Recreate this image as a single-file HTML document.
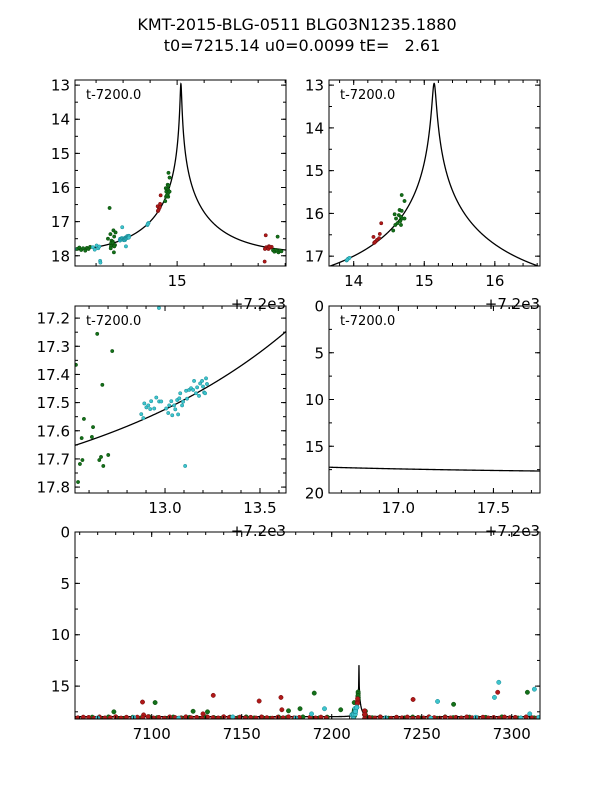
<!DOCTYPE html>
<html><head><meta charset="utf-8">
<style>
body{margin:0;background:#fff;}
svg{display:block;font-family:"DejaVu Sans","Liberation Sans",sans-serif;}
</style></head>
<body>
<svg id="fig" width="600" height="800" viewBox="0 0 600 800">
<rect width="600" height="800" fill="#fff"/>
<text x="297" y="30" font-size="16" text-anchor="middle">KMT-2015-BLG-0511 BLG03N1235.1880</text>
<text x="302" y="51" font-size="16" text-anchor="middle" xml:space="preserve" style="white-space:pre">t0=7215.14 u0=0.0099 tE=   2.61</text>
</svg>
<script>
// model parameters
const t0 = 15.14, u0 = 0.0099, tE = 2.61, mBase = 17.97, fS = 1.0;
// observations, times as t-7200
const greenData = [
[11.3,17.8],[11.38,17.76],[11.45,17.83],[11.52,17.78],[11.6,17.85],[11.66,17.77],[11.72,17.8],[11.78,17.74],
[12.531,17.366],[12.643,17.256],[12.722,17.317],[12.67,17.437],[12.573,17.558],[12.621,17.587],[12.561,17.626],[12.615,17.622],[12.565,17.704],[12.552,17.718],[12.663,17.693],[12.654,17.704],[12.701,17.686],[12.675,17.725],[12.542,17.782],[12.5,16.6],[12.44,17.5],[12.66,17.9],
[14.68,15.57],[14.72,15.71],[14.58,16.02],[14.6,16.12],[14.64,16.04],[14.65,15.92],[14.67,16.08],[14.69,16.12],[14.72,16.12],[14.59,16.27],[14.56,16.40],[14.67,16.27],[14.66,16.18],[14.62,16.23],[14.68,15.94],
[18.55,17.84],[18.6,17.88],[18.65,17.83],[18.7,17.86],[18.75,17.9],[18.8,17.85],[18.86,17.87],[18.72,17.44],
[-98.1,16.6],[-9.7,15.68],[67.7,16.77],[108.7,15.6],[-17.6,17.2],[5,17.3],[-24,17.4],[-121,17.5],[-69,17.5],[-77,17.45],
[-138,18.1],[-133,18.02],[-128.5,18.12],[-124,18.0],[-119.5,18.08],[-115,18.13],[-110.5,18.03],[-106,18.1],[-101.5,17.98],[-97,18.07],[-92.5,18.12],[-88,18.01],[-83.5,18.09],[-79,18.04],[-74.5,18.11],[-70,17.99],[-65.5,18.06],[-61,18.12],[-56.5,18.02],[-52,18.08],[-47.5,18.0],[-43,18.1],[-38.5,18.05],[-34,18.13],[-29.5,18.01],[-25,18.07],[-20.5,18.11],[-16,18.0],[-11.5,18.06],[-7,18.1],[-2.5,18.02],
[22.5,18.08],[27,18.0],[31.5,18.12],[36,18.04],[40.5,18.09],[45,18.01],[49.5,18.11],[54,18.05],[58.5,18.13],[63,18.0],[67.5,18.07],[72,18.1],[76.5,18.02],[81,18.09],[85.5,18.04],[90,18.12],[94.5,18.0],[99,18.08],[103.5,18.11],[108,18.03],[112.5,18.09]
];
const redData = [
[14.28,16.55],[14.29,16.69],[14.31,16.66],[14.33,16.62],[14.36,16.58],[14.37,16.48],[14.39,16.23],[14.3,16.67],
[18.3,17.75],[18.35,17.78],[18.4,17.72],[18.45,17.76],[18.5,17.74],[18.25,17.8],[18.24,18.17],[18.28,17.4],[18.38,17.8],[18.42,17.74],
[-105.1,16.55],[-65.8,15.9],[-40.3,16.45],[-28.2,16.1],[45.2,16.3],[92.2,15.6],[-27.7,17.3],[-104.5,17.8],[-71.5,17.7],
[-141,18.08],[-138,18.02],[-135,18.05],[-132,18.12],[-129,18.0],[-126,18.1],[-123,18.07],[-120,17.98],[-117,18.11],[-114,18.03],[-111,18.14],[-108,18.02],[-105,18.08],[-102,17.97],[-99,18.1],[-96,18.05],[-93,18.13],[-90,18.0],[-87,18.06],[-84,18.11],[-81,17.99],[-78,18.08],[-75,18.04],[-72,18.12],[-69,18.01],[-66,18.07],[-63,18.1],[-60,17.98],[-57,18.06],[-54,18.13],[-51,18.02],[-48,18.09],[-45,18.04],[-42,18.11],[-39,18.0],[-36,18.07],[-33,18.12],[-30,18.03],[-27,18.08],[-24,17.99],[-21,18.1],[-18,18.05],[-12,18.03],[-9,18.1],[-6,18.02],[-3,18.08],
[21,18.06],[24,18.11],[27,18.0],[30,18.08],[33,18.13],[36,18.03],[39,18.09],[42,18.01],[45,18.12],[48,18.05],[51,18.1],[54,17.99],[57,18.07],[60,18.12],[63,18.02],[66,18.09],[69,18.04],[72,18.11],[75,18.0],[78,18.08],[81,18.13],[84,18.03],[87,18.1],[90,18.05],[93,18.12],[96,18.01],[99,18.08],[102,18.04],[105,18.11],[108,18.0],[111,18.07],[114,18.12]
];
const cyanData = [
[11.2,17.8],[11.88,17.75],[11.95,17.82],[12.02,17.7],[12.08,17.78],[12.12,17.73],[12.15,18.15],[12.16,18.2],
[12.968,17.164],[12.875,17.541],[12.886,17.555],[12.891,17.503],[12.902,17.517],[12.912,17.51],[12.922,17.523],[12.927,17.495],[12.943,17.521],[12.954,17.482],[12.969,17.496],[12.98,17.496],[13.006,17.521],[13.017,17.537],[13.022,17.51],[13.033,17.495],[13.038,17.545],[13.048,17.51],[13.054,17.524],[13.064,17.491],[13.069,17.542],[13.075,17.485],[13.08,17.467],[13.09,17.51],[13.095,17.497],[13.106,17.725],[13.111,17.458],[13.116,17.486],[13.127,17.455],[13.137,17.449],[13.148,17.455],[13.153,17.423],[13.163,17.467],[13.169,17.446],[13.179,17.476],[13.185,17.432],[13.195,17.423],[13.2,17.443],[13.206,17.464],[13.216,17.414],[13.221,17.434],[13.211,17.467],
[13.9,17.1],[13.92,17.06],[13.94,17.04],[13.91,17.08],
[92.8,14.63],[90.4,16.1],[58.8,16.49],[112.6,15.3],[-4,17.2],[-11.2,17.7],[110,17.7],
[-130,18.1],[-110,18.05],[-85,18.12],[-55,18.0],[-20,18.1],[30,18.08],[55,18.12],[80,18.03],[105,18.1],[115,18.05]
];
// panel axis definitions
const xTicks1 = [15], xMinor1 = [12,13,14,16,17,18,19], yTicks1 = [13,14,15,16,17,18];
const xTicks2 = [14,15,16], yTicks2 = [13,14,15,16,17];
const xTicks3 = [13.0,13.5], yTicks3 = [17.2,17.3,17.4,17.5,17.6,17.7,17.8];
const xTicks4 = [17.0,17.5], yTicks4 = [0,5,10,15,20];
const xTicks5 = [7100,7150,7200,7250,7300], yTicks5 = [0,5,10,15];

const NS = 'http://www.w3.org/2000/svg';
const svg = document.getElementById('fig');
function mk(tag, attrs, parent){const e=document.createElementNS(NS,tag);for(const k in attrs)e.setAttribute(k,attrs[k]);(parent||svg).appendChild(e);return e;}
function model(t){const u=Math.sqrt(u0*u0+((t-t0)/tE)**2);const A=(u*u+2)/(u*Math.sqrt(u*u+4));return mBase-2.5*Math.log10(fS*(A-1)+1);}
function rng(a,b,s){const r=[];for(let v=Math.ceil(a/s-1e-9)*s;v<=b+1e-9;v+=s)r.push(+v.toFixed(6));return r;}

const panels = [
 {name:'panel-top-left',x0:75,x1:286,y0:80,y1:266,xr:[11.22,19.03],yr:[12.85,18.3],off:0,xt:xTicks1,xm:xMinor1,yt:yTicks1,ym:0.5,fmt:v=>v.toFixed(0),yfmt:v=>v.toFixed(0),lbl:true,offText:true,r:1.7},
 {name:'panel-top-right',x0:329,x1:540,y0:80,y1:266,xr:[13.65,16.64],yr:[12.88,17.23],off:0,xt:xTicks2,xm:rng(13.65,16.64,0.2),yt:yTicks2,ym:0.5,fmt:v=>v.toFixed(0),yfmt:v=>v.toFixed(0),lbl:true,offText:true,r:1.7},
 {name:'panel-mid-left',x0:75,x1:286,y0:306,y1:493,xr:[12.526,13.637],yr:[17.157,17.821],off:0,xt:xTicks3,xm:rng(12.526,13.637,0.1),yt:yTicks3,ym:0.05,fmt:v=>v.toFixed(1),yfmt:v=>v.toFixed(1),lbl:true,offText:true,r:1.7},
 {name:'panel-mid-right',x0:329,x1:540,y0:306,y1:493,xr:[16.635,17.745],yr:[0,20],off:0,xt:xTicks4,xm:rng(16.635,17.745,0.1),yt:yTicks4,ym:2.5,fmt:v=>v.toFixed(1),yfmt:v=>v.toFixed(0),lbl:true,offText:true,r:1.7},
 {name:'panel-bottom',x0:75,x1:540,y0:532,y1:719,xr:[7057.4,7315.7],yr:[0,18.2],off:7200,xt:xTicks5,xm:rng(7057.4,7315.7,10),yt:yTicks5,ym:2.5,fmt:v=>v.toFixed(0),yfmt:v=>v.toFixed(0),lbl:false,offText:false,r:2.2}
];
const series=[{d:greenData,f:'#13701a',s:'#0a4a0a',n:'green'},{d:redData,f:'#b01818',s:'#701010',n:'red'},{d:cyanData,f:'#3cc4cc',s:'#1a8a96',n:'cyan'}];

panels.forEach((p,pi)=>{
 const g=mk('g',{});
 
 
 const X=v=>p.x0+(v-p.xr[0])/(p.xr[1]-p.xr[0])*(p.x1-p.x0);
 const Y=v=>p.y0+(v-p.yr[0])/(p.yr[1]-p.yr[0])*(p.y1-p.y0);
 const cp=mk('clipPath',{id:'cp'+pi},g);
 mk('rect',{x:p.x0,y:p.y0,width:p.x1-p.x0,height:p.y1-p.y0},cp);
 const plot=mk('g',{'clip-path':'url(#cp'+pi+')'},g);
 const ts=[];const a=p.xr[0]-p.off,b=p.xr[1]-p.off;
 for(let i=0;i<=1500;i++)ts.push(a+(b-a)*i/1500);
 if(t0>a&&t0<b)ts.push(t0);
 ts.sort((m,n)=>m-n);
 let dstr='';ts.forEach((t,i)=>{dstr+=(i?'L':'M')+X(t+p.off).toFixed(2)+' '+Y(model(t)).toFixed(2);});
 const curve=mk('path',{d:dstr,fill:'none',stroke:'#000','stroke-width':1.3},plot);
 
 
 series.forEach(s=>{
  s.d.forEach(pt=>{
   const cx=X(pt[0]+p.off),cy=Y(pt[1]);
   if(cx<p.x0-3||cx>p.x1+3||cy<p.y0-3||cy>p.y1+3)return;
   const c=mk('circle',{cx:cx.toFixed(2),cy:cy.toFixed(2),r:p.r,fill:s.f,stroke:s.s,'stroke-width':0.5},plot);
   
   
  });
 });
 const fr=mk('rect',{x:p.x0,y:p.y0,width:p.x1-p.x0,height:p.y1-p.y0,fill:'none',stroke:'#000','stroke-width':1},g);
 
 
 const tk=mk('g',{stroke:'#000','stroke-width':1},g);
 p.xt.forEach(v=>{const x=X(v);mk('line',{x1:x,y1:p.y1,x2:x,y2:p.y1-5},tk);mk('line',{x1:x,y1:p.y0,x2:x,y2:p.y0+5},tk);
  const t=mk('text',{x:x,y:p.y1+20,'font-size':15,'text-anchor':'middle',stroke:'none'},g);t.textContent=p.fmt(v);
  
  });
 p.xm.forEach(v=>{const x=X(v);if(x<=p.x0+0.5||x>=p.x1-0.5)return;mk('line',{x1:x,y1:p.y1,x2:x,y2:p.y1-3},tk);mk('line',{x1:x,y1:p.y0,x2:x,y2:p.y0+3},tk);});
 p.yt.forEach(v=>{const y=Y(v);mk('line',{x1:p.x0,y1:y,x2:p.x0+5,y2:y},tk);mk('line',{x1:p.x1,y1:y,x2:p.x1-5,y2:y},tk);
  const t=mk('text',{x:p.x0-5,y:y+5.5,'font-size':15,'text-anchor':'end',stroke:'none'},g);t.textContent=p.yfmt(v);
  
  });
 rng(p.yr[0],p.yr[1],p.ym).forEach(v=>{const y=Y(v);if(y<=p.y0+0.5||y>=p.y1-0.5)return;mk('line',{x1:p.x0,y1:y,x2:p.x0+3,y2:y},tk);mk('line',{x1:p.x1,y1:y,x2:p.x1-3,y2:y},tk);});
 if(p.lbl){const t=mk('text',{x:p.x0+11,y:p.y0+19,'font-size':13},g);t.textContent='t-7200.0';
  
  }
 if(p.offText){const t=mk('text',{x:p.x1,y:p.y1+43,'font-size':15,'text-anchor':'end'},g);t.textContent='+7.2e3';
  
  }
});
</script>
</body></html>
